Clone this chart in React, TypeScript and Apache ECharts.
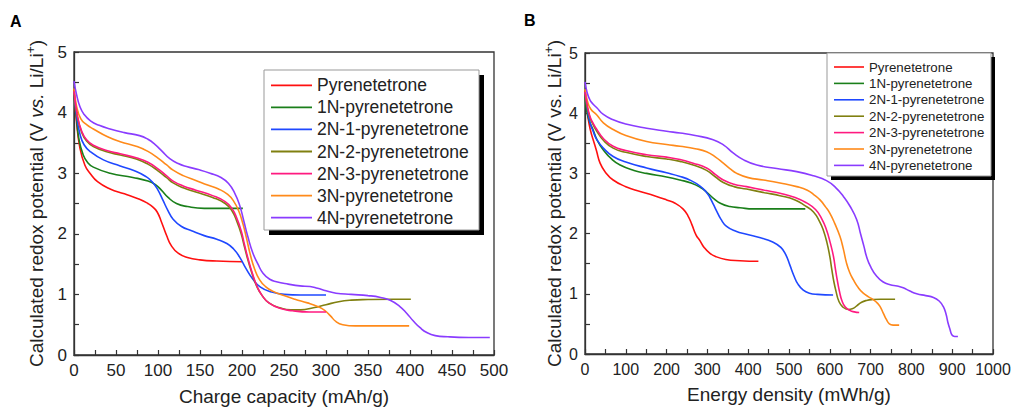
import React, { useEffect, useRef } from "react";
import * as echarts from "echarts";

const seriesNames = [
  "Pyrenetetrone",
  "1N-pyrenetetrone",
  "2N-1-pyrenetetrone",
  "2N-2-pyrenetetrone",
  "2N-3-pyrenetetrone",
  "3N-pyrenetetrone",
  "4N-pyrenetetrone",
];
const seriesColors = ["#ff1010", "#1a7f1a", "#1f48ff", "#808010", "#ff1a80", "#ff8a1a", "#8a3cff"];

const capTicks = { min: 0, max: 500, interval: 50 };
const energyTicks = { min: 0, max: 1000, interval: 100 };
const voltTicks = { min: 0, max: 5, interval: 1 };

// Panel A: charge capacity (mAh/g) vs potential (V)
const aPyr: number[][] = [[0,4.38],[3,3.85],[7,3.42],[13,3.13],[19,3.0],[28,2.86],[43,2.74],[60,2.66],[78,2.57],[88,2.5],[94,2.44],[99,2.36],[104,2.2],[110,1.98],[116,1.8],[124,1.68],[135,1.61],[150,1.57],[170,1.55],[201,1.54]];
const a1N: number[][] = [[0,4.3],[3,3.9],[6,3.55],[11,3.3],[16,3.18],[23,3.1],[43,3.0],[70,2.93],[88,2.87],[97,2.81],[104,2.72],[112,2.6],[122,2.5],[135,2.45],[155,2.42],[201,2.42]];
const a2N1: number[][] = [[0,4.35],[3,3.95],[7,3.65],[12,3.47],[20,3.35],[35,3.22],[55,3.12],[72,3.04],[85,2.95],[93,2.86],[100,2.72],[106,2.55],[112,2.38],[118,2.24],[128,2.12],[140,2.05],[155,1.97],[170,1.91],[182,1.84],[190,1.75],[197,1.62],[205,1.42],[213,1.25],[222,1.12],[235,1.04],[250,1.0],[270,0.99],[300,0.99]];
const a2N2: number[][] = [[0,4.33],[4,3.93],[9,3.68],[15,3.53],[23,3.44],[40,3.35],[55,3.3],[75,3.23],[88,3.15],[100,3.04],[110,2.93],[118,2.84],[130,2.76],[145,2.69],[165,2.6],[180,2.5],[188,2.38],[194,2.2],[199,2.0],[203,1.78],[208,1.52],[213,1.3],[218,1.12],[224,0.98],[232,0.86],[245,0.78],[258,0.745],[270,0.745],[285,0.78],[300,0.83],[315,0.88],[330,0.905],[350,0.915],[380,0.92],[401,0.92]];
const a2N3: number[][] = [[0,4.35],[4,3.95],[9,3.7],[15,3.55],[23,3.46],[40,3.37],[55,3.32],[75,3.25],[88,3.18],[100,3.07],[110,2.96],[118,2.87],[130,2.79],[145,2.72],[165,2.63],[180,2.53],[188,2.42],[194,2.25],[199,2.05],[203,1.82],[208,1.55],[213,1.32],[218,1.13],[224,0.98],[232,0.86],[245,0.77],[260,0.73],[280,0.71],[300,0.71]];
const a3N: number[][] = [[0,4.4],[3,4.11],[8,3.9],[15,3.8],[23,3.73],[40,3.6],[55,3.52],[75,3.44],[88,3.36],[100,3.25],[110,3.14],[118,3.05],[130,2.96],[145,2.88],[160,2.8],[172,2.74],[183,2.65],[190,2.54],[196,2.38],[201,2.17],[205,1.95],[210,1.65],[215,1.42],[221,1.24],[228,1.13],[237,1.05],[250,0.98],[263,0.92],[278,0.86],[290,0.8],[298,0.74],[305,0.65],[312,0.55],[320,0.5],[335,0.48],[360,0.48],[399,0.48]];
const a4N: number[][] = [[0,4.52],[3,4.3],[7,4.1],[12,3.97],[20,3.86],[30,3.79],[43,3.73],[60,3.67],[78,3.62],[88,3.56],[96,3.48],[105,3.36],[114,3.24],[124,3.16],[134,3.11],[148,3.06],[162,3.0],[175,2.93],[184,2.83],[191,2.68],[197,2.48],[202,2.22],[207,1.95],[213,1.68],[219,1.5],[225,1.35],[233,1.25],[241,1.21],[255,1.17],[269,1.14],[281,1.13],[290,1.1],[300,1.06],[312,1.02],[330,1.0],[350,0.98],[365,0.95],[377,0.9],[388,0.8],[396,0.69],[404,0.56],[412,0.45],[420,0.37],[430,0.32],[445,0.3],[470,0.29],[495,0.29]];

// Panel B: energy density (mWh/g) vs potential (V)
const bPyr: number[][] = [[0,4.38],[3,4.2],[8,3.9],[14,3.7],[20,3.56],[28,3.38],[37,3.17],[50,3.02],[69,2.89],[100,2.78],[135,2.7],[170,2.63],[200,2.56],[222,2.5],[240,2.41],[252,2.3],[262,2.15],[272,1.98],[282,1.88],[292,1.77],[305,1.68],[320,1.62],[345,1.57],[380,1.55],[425,1.54]];
const b1N: number[][] = [[0,4.3],[4,4.05],[10,3.88],[20,3.72],[30,3.55],[45,3.39],[65,3.24],[86,3.14],[120,3.05],[151,3.0],[200,2.94],[233,2.89],[260,2.84],[282,2.77],[298,2.69],[314,2.59],[333,2.5],[355,2.45],[380,2.43],[412,2.41],[540,2.41]];
const b2N1: number[][] = [[0,4.35],[5,4.1],[12,3.85],[20,3.7],[29,3.56],[45,3.42],[69,3.28],[100,3.19],[151,3.09],[200,3.01],[233,2.95],[260,2.88],[282,2.79],[296,2.7],[306,2.6],[315,2.48],[323,2.37],[333,2.24],[347,2.12],[370,2.04],[396,1.99],[430,1.93],[460,1.86],[480,1.77],[492,1.65],[502,1.48],[512,1.3],[522,1.16],[535,1.06],[550,1.01],[570,0.99],[608,0.98]];
const b2N2: number[][] = [[0,4.33],[5,4.12],[12,3.93],[20,3.81],[29,3.7],[45,3.55],[69,3.42],[100,3.35],[151,3.28],[200,3.24],[233,3.2],[265,3.14],[298,3.05],[320,2.94],[339,2.85],[365,2.78],[396,2.74],[440,2.68],[478,2.63],[515,2.56],[540,2.46],[560,2.36],[575,2.2],[584,2.06],[593,1.85],[600,1.62],[605,1.4],[610,1.2],[616,1.02],[622,0.88],[632,0.78],[645,0.74],[655,0.75],[666,0.8],[678,0.86],[690,0.89],[705,0.905],[725,0.91],[760,0.91]];
const b2N3: number[][] = [[0,4.35],[5,4.15],[12,3.95],[20,3.83],[29,3.73],[45,3.58],[69,3.45],[100,3.38],[151,3.31],[200,3.27],[233,3.23],[265,3.17],[298,3.09],[320,2.98],[339,2.89],[365,2.82],[396,2.78],[440,2.72],[478,2.67],[515,2.6],[543,2.51],[565,2.4],[580,2.25],[592,2.06],[601,1.85],[609,1.62],[614,1.4],[619,1.2],[624,1.03],[630,0.88],[638,0.78],[650,0.72],[660,0.7],[672,0.69]];
const b3N: number[][] = [[0,4.4],[6,4.2],[14,4.07],[29,3.97],[45,3.84],[69,3.73],[100,3.63],[151,3.53],[200,3.48],[233,3.45],[270,3.41],[298,3.36],[320,3.27],[339,3.17],[355,3.08],[372,3.0],[400,2.93],[437,2.89],[478,2.84],[519,2.78],[545,2.72],[562,2.64],[576,2.56],[590,2.44],[600,2.34],[612,2.17],[625,1.95],[633,1.75],[641,1.51],[649,1.35],[658,1.23],[670,1.1],[682,1.01],[695,0.95],[707,0.9],[716,0.85],[723,0.79],[731,0.68],[739,0.57],[746,0.5],[755,0.48],[770,0.48]];
const b4N: number[][] = [[0,4.52],[5,4.35],[12,4.22],[20,4.15],[29,4.09],[45,3.98],[69,3.89],[100,3.82],[151,3.75],[200,3.7],[233,3.67],[270,3.63],[314,3.56],[340,3.47],[363,3.34],[390,3.22],[421,3.14],[470,3.08],[519,3.03],[560,2.96],[592,2.88],[615,2.76],[633,2.62],[650,2.45],[666,2.23],[676,1.98],[684,1.78],[690,1.62],[700,1.45],[715,1.29],[730,1.2],[748,1.15],[765,1.13],[780,1.1],[795,1.05],[813,1.0],[835,0.97],[854,0.94],[868,0.88],[878,0.79],[885,0.66],[890,0.51],[895,0.4],[899,0.32],[906,0.29],[914,0.29]];

const panelA = [aPyr, a1N, a2N1, a2N2, a2N3, a3N, a4N];
const panelB = [bPyr, b1N, b2N1, b2N2, b2N3, b3N, b4N];

const FONT = 'Arial, "Liberation Sans", Helvetica, sans-serif';
const AXIS_COLOR = "#333";
const TEXT_COLOR = "#222";

function makeAxis(ticks: { min: number; max: number; interval: number }, gridIndex: number, name: string, labelSize: number, nameGap: number, isY: boolean, italicVs: boolean) {
  const axis: any = {
    type: "value",
    gridIndex,
    min: ticks.min,
    max: ticks.max,
    interval: ticks.interval,
    axisLine: { show: true, lineStyle: { color: AXIS_COLOR, width: 1.3 } },
    axisTick: { show: true, inside: true, length: 5, lineStyle: { color: AXIS_COLOR, width: 1.2 } },
    minorTick: { show: true, splitNumber: 2, length: 5, lineStyle: { color: AXIS_COLOR, width: 1.2 } },
    splitLine: { show: false },
    minorSplitLine: { show: false },
    axisLabel: { fontSize: labelSize, color: TEXT_COLOR, fontFamily: FONT, margin: 7, formatter: (v: number) => String(v) },
    nameLocation: "middle",
    nameGap,
  };
  if (isY) {
    axis.name = "{n|Calculated redox potential (V }{" + (italicVs ? "i" : "n") + "|vs.}{n| Li/Li}{s|+}{n|)}";
    axis.nameRotate = 90;
    axis.nameTextStyle = {
      color: TEXT_COLOR,
      fontFamily: FONT,
      rich: {
        n: { fontSize: 19, color: TEXT_COLOR, fontFamily: FONT, lineHeight: 22 },
        i: { fontSize: 19, color: TEXT_COLOR, fontFamily: FONT, fontStyle: "italic", lineHeight: 22 },
        s: { fontSize: 12, color: TEXT_COLOR, fontFamily: FONT, verticalAlign: "top", lineHeight: 12 },
      },
    };
  } else {
    axis.name = name;
    axis.nameTextStyle = { fontSize: 19, color: TEXT_COLOR, fontFamily: FONT };
  }
  return axis;
}

export default function App() {
  const ref = useRef<HTMLDivElement>(null);
  useEffect(() => {
    if (!ref.current) return;
    const chart = echarts.init(ref.current, undefined, { renderer: "svg" });
    const series: any[] = [];
    [panelA, panelB].forEach((panel, pi) => {
      panel.forEach((data, i) => {
        series.push({
          type: "line",
          name: seriesNames[i],
          xAxisIndex: pi,
          yAxisIndex: pi,
          data,
          symbol: "none",
          smooth: 0.5,
          lineStyle: { color: seriesColors[i], width: 1.6 },
          itemStyle: { color: seriesColors[i] },
          z: 2 + (i === 4 ? 1 : 0),
        });
      });
    });
    const option: any = {
      animation: false,
      backgroundColor: "#fff",
      textStyle: { fontFamily: FONT },
      grid: [
        { left: 74, top: 52, width: 420, height: 308, show: true, borderColor: AXIS_COLOR, borderWidth: 1.3, containLabel: false },
        { left: 585, top: 53, width: 408, height: 301, show: true, borderColor: AXIS_COLOR, borderWidth: 1.3, containLabel: false },
      ],
      xAxis: [
        makeAxis(capTicks, 0, "Charge capacity (mAh/g)", 17, 32, false, false),
        makeAxis(energyTicks, 1, "Energy density (mWh/g)", 16, 31, false, false),
      ],
      yAxis: [
        makeAxis(voltTicks, 0, "", 17, 27, true, true),
        makeAxis(voltTicks, 1, "", 16, 20, true, false),
      ],
      legend: [
        {
          orient: "vertical",
          left: 271,
          top: 76.3,
          padding: 0,
          icon: "rect",
          itemWidth: 41,
          itemHeight: 1.8,
          itemGap: 4.07,
          data: seriesNames,
          selectedMode: false,
          z: 20,
          textStyle: { fontSize: 17.5, color: TEXT_COLOR, fontFamily: FONT, lineHeight: 18 },
        },
        {
          orient: "vertical",
          left: 834,
          top: 60,
          padding: 0,
          icon: "rect",
          itemWidth: 30,
          itemHeight: 1.6,
          itemGap: 2.4,
          data: seriesNames,
          selectedMode: false,
          z: 20,
          textStyle: { fontSize: 13.3, color: TEXT_COLOR, fontFamily: FONT, lineHeight: 14 },
        },
      ],
      graphic: [
        { type: "rect", z: 10, shape: { x: 269, y: 75, width: 215, height: 160 }, style: { fill: "#000" } },
        { type: "rect", z: 11, shape: { x: 264, y: 70, width: 215, height: 160 }, style: { fill: "#fff", stroke: "#999", lineWidth: 1 } },
        { type: "rect", z: 10, shape: { x: 831, y: 57, width: 164, height: 123 }, style: { fill: "#000" } },
        { type: "rect", z: 11, shape: { x: 827, y: 53, width: 164, height: 123 }, style: { fill: "#fff", stroke: "#999", lineWidth: 1 } },
        { type: "text", z: 12, left: 10, top: 13, style: { text: "A", fontSize: 16, fontWeight: "bold", fill: "#000", fontFamily: FONT } },
        { type: "text", z: 12, left: 524, top: 12, style: { text: "B", fontSize: 16, fontWeight: "bold", fill: "#000", fontFamily: FONT } },
      ],
      series,
    };
    chart.setOption(option);
    return () => chart.dispose();
  }, []);
  return <div ref={ref} style={{ position: "fixed", left: 0, top: 0, width: 1014, height: 411 }} />;
}
